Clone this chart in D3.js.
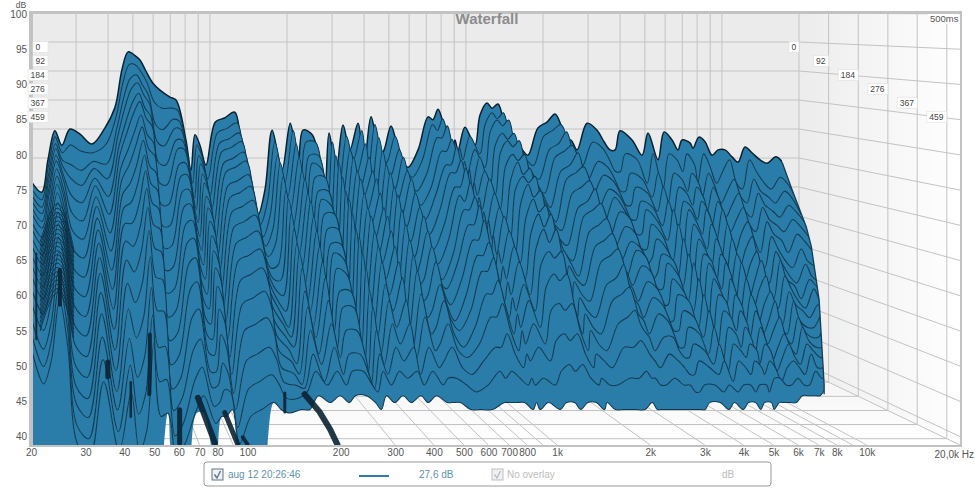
<!DOCTYPE html>
<html><head><meta charset="utf-8">
<script src="https://cdn.jsdelivr.net/npm/d3@7"></script>
<style>html,body{margin:0;padding:0;background:#fff}svg{display:block}text{font-family:"Liberation Sans",Arial,sans-serif}</style>
</head><body><svg id="c" width="975" height="488"></svg>
<script>
const sliceMs=[0,27,54,81,108,135,162,189,216,243,270,297,324,351,378,405,432,459];
const timeTicks=[0,92,184,276,367,459];
const dbTicks=[40,45,50,55,60,65,70,75,80,85,90,95,100];
const freqLabels=[[20,"20"],[30,"30"],[40,"40"],[50,"50"],[60,"60"],[70,"70"],[80,"80"],[100,"100"],[200,"200"],[300,"300"],[400,"400"],[500,"500"],[600,"600"],[700,"700"],[800,"800"],[1000,"1k"],[2000,"2k"],[3000,"3k"],[4000,"4k"],[5000,"5k"],[6000,"6k"],[7000,"7k"],[8000,"8k"],[10000,"10k"]];
const gridFreqs=[30,40,50,60,70,80,90,100,200,300,400,500,600,700,800,900,1000,2000,3000,4000,5000,6000,7000,8000,9000,10000,20000];
const freqs=[20,22,23.3,24.8,26.4,28.4,31.1,34.6,38.9,42.6,45.3,47.9,50.5,53.3,56.2,59.9,63.8,69.8,73.7,80.6,84.3,87.4,91.4,96.5,105,114,125,132,140,154,164,175,191,206,221,231,251,269,281,292,311,331,352,379,400,426,462,479,510,552,594,650,711,743,778,828,883,906,931,991,1084,1135,1208,1264,1335,1422,1514,1542,1642,1747,1911,2074,2229,2350,2438,2572,2717,2972,3252,3463,3656,3824,4000,4454,4875,5143,5629,5942,6385,6735,6985,7505,7709,8128,8590,9143,9661,10280,10950,11560,12300,13100,14090,15000,16260,17320,18970];
const levels=[
[71,70.2,69.5,68.9,68.2,67.6,66.6,65.9,64.9,64,62.9,61.8,60.6,59,57.3,55.4,53.7,52],
[69.1,68.2,67.3,66.6,65.7,65,63.9,63,61.9,60.8,59.6,58.2,56.8,55,53,50.7,48.7,46.7],
[74.7,73.7,72.7,72,71,70.3,69,68,66.8,65.6,64.2,62.7,61.1,59.1,56.9,54.4,52.2,50],
[79.7,78.9,78,77.4,76.6,75.9,74.9,74,73,72,70.8,69.6,68.2,66.5,64.7,62.6,60.7,58.8],
[77.2,76.2,75.2,74.4,73.4,72.7,71.4,70.4,69.1,67.9,66.5,65,63.3,61.3,59.1,56.5,54.3,52],
[80,77.5,74.5,72.4,69.9,67.4,64.9,62.4,59.8,57.3,54.8,52.3,49.8,47.2,44.7,42.6,40.1,38],
[79.1,76.5,73.5,71.3,68.8,66.2,63.6,61,58.4,55.8,53.2,50.7,48.1,45.5,42.9,40.7,38.2,36],
[77.4,76.2,75,74.1,72.8,71.9,70.4,69.2,67.7,66.2,64.5,62.7,60.7,58.2,55.5,52.5,49.7,47],
[80.2,77.6,74.6,72.4,69.8,67.2,64.6,62.1,59.5,56.9,54.3,51.7,49.1,46.5,43.9,41.8,39.2,37],
[83.8,82.3,80.7,79.6,78,76.9,75,73.4,71.5,69.6,67.5,65.2,62.7,59.6,56.2,52.3,48.9,45.4],
[90.2,88.1,85.9,84.3,82.2,80.6,78,75.8,73.2,70.5,67.6,64.4,60.9,56.7,51.9,46.6,41.8,37],
[93.3,91.2,89,87.4,85.3,83.7,81,78.9,76.2,73.6,70.6,67.4,64,59.7,54.9,49.6,44.8,40],
[92.8,91.2,89.6,88.4,86.8,85.6,83.6,81.9,80,77.9,75.7,73.3,70.7,67.5,63.9,59.8,56.2,52.6],
[91.9,89.9,87.9,86.4,84.4,82.9,80.4,78.4,75.9,73.4,70.7,67.7,64.5,60.5,56,51,46.5,42],
[90,88.1,86.2,84.8,82.9,81.5,79.1,77.2,74.8,72.4,69.8,67,63.9,60.1,55.8,51.1,46.8,42.5],
[87.9,84.8,81.2,78.6,75.4,72.3,69.2,66.1,63,59.9,56.8,53.6,50.5,47.4,44.3,41.7,38.6,36],
[86.7,83.8,80.4,77.9,75,72.1,69.2,66.2,63.3,60.4,57.5,54.6,51.6,48.7,45.8,43.4,40.4,38],
[85.5,83.8,82.1,80.8,79.1,77.9,75.7,74,71.9,69.8,67.4,64.9,62.1,58.7,54.9,50.7,46.8,43],
[85,83.4,81.8,80.6,79,77.8,75.8,74.2,72.2,70.2,68,65.6,63,59.8,56.2,52.2,48.6,45],
[78.1,75.9,73.3,71.4,69.2,67,64.7,62.5,60.3,58.1,55.8,53.6,51.4,49.2,46.9,45.1,42.9,41],
[72.9,71,68.9,67.3,65.5,63.6,61.8,59.9,58.1,56.2,54.4,52.5,50.7,48.8,46.9,45.4,43.5,42],
[79,77.5,76,74.9,73.5,72.3,70.5,69,67.2,65.3,63.3,61.1,58.7,55.7,52.4,48.7,45.3,42],
[77.2,75.7,74.2,73.1,71.6,70.5,68.6,67.2,65.3,63.4,61.4,59.2,56.7,53.8,50.4,47,45,43],
[73.8,71.7,69.1,67.4,65.2,63.1,60.9,58.8,56.6,54.5,52.3,50.2,48,45.9,43.7,41.9,39.8,38],
[81.2,79.6,78.1,76.9,75.3,74.1,72.2,70.6,68.7,66.7,64.5,62.2,59.6,56.5,53,49.1,45.5,42],
[81.9,80.3,78.8,77.6,76.1,74.9,73,71.4,69.5,67.5,65.4,63,60.5,57.4,53.9,50,46.5,43],
[82.9,81.3,79.8,78.6,77.1,75.9,74,72.4,70.5,68.5,66.4,64,61.5,58.4,54.9,51,47.5,44],
[78.1,76.7,75.3,74.2,72.8,71.8,70,68.6,66.9,65.1,63.2,61.1,58.8,56,52.8,49.3,46.2,43],
[73.8,71.9,69.7,68.2,66.3,64.4,62.5,60.7,58.8,56.9,55,53.1,51.3,49.4,47.5,45.9,44.1,42.5],
[65.2,64,62.3,61.2,59.9,58.5,57.2,55.9,54.5,53.2,51.9,50.5,49.2,47.9,46.6,45.4,44.1,43],
[69.5,68,66,64,62,59,57,55,53,51,50,49,47,46,45,45,45,43],
[79.8,78,76,75,73,71,70,68,66,64,63,61,58,56,53,50,48,45],
[72.9,71,69,67,65,63,61,59,57,55,54,52,51,49,48,46,46,44],
[81,80,78,76,74,73,71,70,68,66,64,62,60,57,54,51,48,45],
[73.8,72,70,68,66,64,62,60,58,57,55,53,52,50,49,47,46,44],
[79.8,78,76,75,73,71,70,68,66,64,63,61,58,56,53,50,48,45],
[79,78,76,74,73,71,69,68,66,64,62,60,58,56,53,50,48,45],
[73.8,72,70,68,66,64,62,60,58,57,55,53,52,50,49,47,46,44],
[69.5,68,66,64,62,59,57,55,53,51,50,49,47,46,45,45,45,43],
[79.3,78,76,75,73,71,70,68,66,65,63,61,58,56,53,50,48,45],
[72.9,71,69,67,65,63,61,59,57,56,54,52,51,49,48,47,46,44],
[80.7,79,77,76,74,73,71,69,68,66,64,62,59,57,54,51,48,45],
[76.4,75,73,71,70,68,66,64,62,61,59,57,55,53,51,49,47,44],
[81,80,78,76,74,73,71,69,68,66,64,62,60,57,54,51,48,45],
[73.8,72,70,68,66,64,62,60,58,57,55,53,52,50,49,47,46,44],
[82.1,81,79,77,75,74,72,71,69,67,65,63,61,58,55,51,48,45],
[75.5,74,72,70,68,66,65,63,61,59,58,56,54,52,50,48,46,44],
[76.4,75,73,71,70,68,66,64,62,61,59,57,55,53,51,49,47,44],
[80.5,79,77,76,74,73,71,69,68,66,64,62,59,57,54,51,47,44],
[75.5,74,72,70,68,66,65,63,61,59,58,56,54,52,50,48,46,43],
[73.4,72,70,68,66,64,62,60,58,57,55,53,52,50,49,47,45,43],
[76.4,75,73,71,70,68,66,64,62,61,59,57,55,53,51,49,46,43],
[82.1,81,79,77,75,74,72,71,69,67,65,63,61,58,55,51,48,44],
[81.6,80,79,77,75,74,72,70,69,67,65,63,61,58,55,51,47,44],
[83.4,82,81,79,78,76,75,73,71,70,68,65,63,60,57,53,48,44],
[79.8,78,76,75,73,71,70,68,66,64,63,61,58,56,53,50,47,44],
[76,75,73,71,69,67,65,63,61,60,58,56,54,52,50,48,46,43],
[78.1,77,75,74,72,70,68,67,65,63,61,59,57,55,53,50,47,44],
[76.4,75,73,71,70,68,66,64,62,61,59,57,55,53,51,49,46,43],
[80.3,79,77,76,74,73,71,69,68,66,64,62,59,57,54,51,47,44],
[77.2,76,74,71,70,68,66,64,62,61,59,57,55,53,51,49,46,43],
[82.4,81,80,78,77,75,73,72,70,68,66,64,62,59,56,52,48,44],
[84.5,83,82,80,79,77,76,74,73,71,69,67,64,61,57,53,49,44],
[83.6,82,81,79,78,76,74,73,71,69,67,65,63,60,56,52,48,43],
[84.3,83,82,80,79,77,75,74,72,70,69,67,64,61,57,53,49,44],
[79.8,78,76,75,73,71,70,68,66,64,63,61,58,56,53,50,47,44],
[75.9,75,72,70,68,66,65,63,61,59,58,56,54,52,50,48,46,43],
[78.1,77,75,74,72,70,68,67,65,63,61,59,57,55,53,50,47,44],
[76.7,75,73,71,70,68,66,64,62,61,59,57,55,53,51,49,46,43],
[75.5,74,72,70,68,66,65,63,61,59,58,56,54,52,50,48,46,43],
[80.2,79,77,76,74,73,71,69,68,66,64,62,59,57,54,51,47,43],
[81.2,80,78,77,75,74,72,70,69,67,65,63,60,58,55,51,47,43],
[82.6,81,80,78,77,75,73,72,70,68,66,64,62,59,56,52,48,44],
[80.7,79,77,76,74,73,71,69,68,66,64,62,59,57,54,51,47,43],
[78.1,77,75,74,72,70,68,67,65,63,61,59,57,55,53,50,47,43],
[78.1,76,74,73,71,69,67,66,64,62,60,58,56,54,52,49,46,43],
[76.4,74,72,70,68,66,64,63,61,59,58,56,54,52,50,48,46,43],
[81,78,75,73,71,70,68,66,64,63,61,59,57,55,52,50,47,43],
[79.8,77,74,72,70,68,67,65,63,62,60,58,56,54,52,49,46,43],
[77.8,75,72,70,68,66,64,62,61,59,57,56,54,52,50,48,46,43],
[76.4,73,70,68,66,64,62,60,58,57,55,53,52,50,49,47,45,43],
[76.4,73,70,68,66,64,62,61,59,57,55,53,52,50,49,47,45,43],
[79.7,76,73,71,69,68,66,64,62,61,59,57,55,53,51,49,46,44],
[78.1,75,72,70,68,66,64,62,61,59,57,56,54,52,50,48,46,44],
[75.5,71,69,67,65,63,60,58,57,55,54,52,51,49,48,47,45,43],
[79.3,76,73,71,69,68,66,64,62,61,59,57,55,53,51,49,46,44],
[74.7,70,68,66,64,61,59,57,55,54,52,51,50,48,47,46,45,43],
[79.5,76,73,71,69,68,66,64,62,61,59,57,55,53,51,49,46,44],
[78.1,75,72,70,68,66,64,62,61,59,57,56,54,52,50,48,46,44],
[76.4,73,70,68,66,64,62,60,58,57,55,53,52,50,49,47,45,43],
[78.1,76,73,71,69,68,66,64,62,61,59,57,55,53,51,49,46,44],
[77.6,74,71,69,67,65,63,61,60,58,56,55,53,51,50,48,46,44],
[76.7,71,69,67,65,63,60,58,57,55,54,52,51,49,48,47,45,43],
[78.6,76,73,71,69,68,66,64,62,61,59,57,55,53,51,49,47,44],
[77.8,74,71,69,67,65,63,61,60,58,56,55,53,51,50,48,47,44],
[75.5,71,68,66,64,61,59,57,55,54,52,51,50,48,47,46,46,44],
[76.4,73,70,68,66,64,62,60,58,57,55,53,52,50,49,48,46,44],
[76.4,75,72,70,68,66,64,62,61,59,57,56,54,52,51,49,47,45],
[75.2,71,69,67,65,63,60,58,57,55,54,52,51,50,49,48,46,45],
[74.3,70,68,66,64,61,59,57,55,54,52,51,50,49,48,47,46,45],
[76.9,75,72,70,68,66,64,62,61,59,57,56,54,53,51,50,48,45],
[75.9,73,70,68,66,64,62,60,58,57,55,53,52,51,50,48,47,46],
[74.7,71,69,67,65,63,60,58,57,55,54,52,51,50,49,48,47,46],
[74.1,70,68,66,64,61,59,57,55,54,53,52,51,50,49,48,47,46],
[75.2,72,70,68,66,64,62,60,58,57,55,54,53,51,50,49,48,47],
[74.1,71,69,67,65,63,60,58,57,55,54,53,52,51,50,49,48,47],
[69.5,68,66,65,63,61,59,57,56,54,53,52,51,50,49,48,47,46]
];
const skirtDb=[30,30,30,30,30,30,30,30,30,30,30,30,30,34,42.5,30,30,42.5,42.5,33,42,42,43,33,30,32,44];
const edgeFreq=[5332,5742,6375,6620,7017,7283,7283];
const edgeDb=[78.9,75,69.8,67,59.4,47.4,46];
const domeFreq=[21.4,23,24.4,26,27.5];
const domeDrop=[6,1.6,0,2,7];
const domeLevels=[73.6,73,72.4,71.8,71.2,70.6,70,69.4,68.8,68.2,67.6,67,66.4,65.8,65.2,64.6,64,63.4,62.8,62.2,61.6,61];
const streaks=[
 {f:[153,171,185,195],db:[46,43.5,41,38.9],w:6},
 {f:[48.4,48.4,48.2],db:[54.5,50,46],w:4},
 {f:[42,42],db:[47.7,42.8],w:2.5},
 {f:[60.4,60.4],db:[43.8,39.1],w:5},
 {f:[69.2,78.5],db:[45.5,39.1],w:6},
 {f:[84.5,93],db:[43.4,38.9],w:5},
 {f:[96.6,100],db:[39.9,38.9],w:4},
 {f:[132,132],db:[46.2,43.5],w:3},
 {f:[24.8,24.8],db:[63.7,58.7],w:4},
 {f:[20.8,20.8],db:[66,53.8],w:2},
 {f:[35.4,35.4],db:[50.6,48.5],w:5}
];
const legendTitle="aug 12 20:26:46", legendValue="27,6 dB", overlayText="No overlay", unitText="dB";

const FILL="#2a7ca9", LINE="#0f3a52", GRID="#c3c3c3", FRAME="#c2c2c2";
const tOf=ms=>ms/500;
const xAt=t=>d3.scaleLog().domain([20,20000]).range([31,799+161*t]);
const yAt=t=>d3.scaleLinear().domain([100,38.8]).range([13+t,368+77*t]);
// slices narrow towards the high end as time advances
const rowX=t=>d3.scaleLog().domain([20,2000,20000]).range([31,31+(768+161*t)*2/3,799+75*t]);
const xF=xAt(1), yF=yAt(1), xB=xAt(0), yB=yAt(0);
const svg=d3.select("#c");
const defs=svg.append("defs");
const g1=defs.append("linearGradient").attr("id","wall").attr("x1",0).attr("x2",1).attr("y1",0).attr("y2",0);
g1.append("stop").attr("offset",0).attr("stop-color","#ececec");g1.append("stop").attr("offset",1).attr("stop-color","#ffffff");
const g2=defs.append("linearGradient").attr("id","floor").attr("x1",0).attr("x2",0).attr("y1",0).attr("y2",1);
g2.append("stop").attr("offset",0).attr("stop-color","#f3f3f3");g2.append("stop").attr("offset",1).attr("stop-color","#ffffff");

const poly=p=>"M"+p.map(a=>a.join(",")).join("L")+"Z";
const R=[xF.range()[1],yF.range()[1]], B=[xB.range()[1],yB.range()[1]];
svg.append("rect").attr("x",31).attr("y",13).attr("width",B[0]-31).attr("height",B[1]-13).attr("fill","#ebebeb");
svg.append("path").attr("d",poly([[B[0],13],[R[0],13],R,B])).attr("fill","url(#wall)");
svg.append("path").attr("d",poly([[31,B[1]],B,R,[31,R[1]]])).attr("fill","url(#floor)");
const gl=svg.append("g").attr("stroke",GRID).attr("stroke-width",1).attr("fill","none");
const seg=(a,b,c,d)=>gl.append("line").attr("x1",a).attr("y1",b).attr("x2",c).attr("y2",d);
gridFreqs.forEach(f=>{seg(xB(f),13,xB(f),yB(38.8));seg(xB(f),yB(38.8),xF(f),yF(38.8));});
dbTicks.forEach(d=>{seg(31,yB(d),xB(20000),yB(d));seg(xB(20000),yB(d),xF(20000),yF(d));});
timeTicks.slice(1).forEach(ms=>{const t=tOf(ms),X=xAt(t),Y=yAt(t);
 seg(X(20000),Y(100),X(20000),Y(38.8));seg(31,Y(38.8),X(20000),Y(38.8));});

const rows=sliceMs.map((ms,k)=>{const t=tOf(ms),X=rowX(t),Y=yAt(t);
 return freqs.map((f,c)=>({x:X(f),y:Y(levels[c][k])}));});
const tl=tOf(sliceMs[sliceMs.length-1]),XL=rowX(tl),YL=yAt(tl);
const skirt=freqs.map((f,c)=>({x:XL(f),y:YL(c<skirtDb.length?skirtDb[c]:levels[c][sliceMs.length-1])}));
const edge=edgeFreq.map((f,i)=>[xF(f),yF(edgeDb[i])]);
defs.append("clipPath").attr("id","surf").append("path").attr("d",poly([[31,0],[edge[0][0],0],...edge,[edge[edge.length-1][0],445],[31,445]]));
const sf=svg.append("g").attr("clip-path","url(#surf)");
const curve=d3.curveCatmullRom.alpha(0.5);
const band=d3.area().curve(curve).x0(d=>d.b.x).y0(d=>d.b.y).x1(d=>d.a.x).y1(d=>d.a.y);
const ln=d3.line().curve(curve).x(d=>d.x).y(d=>d.y);
rows.forEach((row,k)=>{
 const next=k<rows.length-1?rows[k+1]:skirt;
 sf.append("path").attr("d",band(row.map((a,c)=>({a,b:next[c]})))).attr("fill",FILL);
 sf.append("path").attr("d",ln(row)).attr("fill","none").attr("stroke",k==0?"#0a2230":LINE).attr("stroke-width",k==0?1.5:1.05);
});
domeLevels.forEach(l=>{
 sf.append("path").attr("d",d3.line().curve(d3.curveBasis)(domeFreq.map((f,i)=>[xF(f),yF(l-domeDrop[i])]))).attr("fill","none").attr("stroke","#0c2f43").attr("stroke-width",.9);
});
streaks.forEach(s=>{
 sf.append("path").attr("d",d3.line()(s.f.map((f,i)=>[xF(f),yF(s.db[i])]))).attr("fill","none").attr("stroke","#0b2433").attr("stroke-width",s.w).attr("stroke-linecap","round").attr("stroke-opacity",.9);
});
svg.append("path").attr("d",d3.line()(edge)).attr("fill","none").attr("stroke","#143c54").attr("stroke-width",1.3);

svg.append("rect").attr("x",29).attr("y",11).attr("width",4).attr("height",436).attr("fill",FRAME);
svg.append("rect").attr("x",29).attr("y",11).attr("width",933).attr("height",3).attr("fill",FRAME);
svg.append("rect").attr("x",960).attr("y",11).attr("width",2).attr("height",436).attr("fill",FRAME);
svg.append("rect").attr("x",29).attr("y",445).attr("width",933).attr("height",2).attr("fill",FRAME);

const yAxis=svg.append("g").attr("transform","translate(27,0)").call(d3.axisLeft(yF).tickValues(dbTicks).tickSize(0).tickPadding(0));
yAxis.select(".domain").remove();
yAxis.selectAll("text").attr("fill","#555").style("font-size","10px");
const xAxis=svg.append("g").attr("transform","translate(0,449)").call(d3.axisBottom(xF).tickValues(freqLabels.map(d=>d[0])).tickFormat(d=>new Map(freqLabels).get(d)).tickSize(0).tickPadding(0));
xAxis.select(".domain").remove();
xAxis.selectAll("text").attr("fill","#555").style("font-size","10px");
const T=(x,y,s,o={})=>svg.append("text").attr("x",x).attr("y",y).text(s).attr("font-size",o.size||10).attr("fill",o.fill||"#555").attr("text-anchor",o.anchor||"start").attr("font-weight",o.weight||"normal");
T(974,458,"20,0k Hz",{anchor:"end"});
T(21,8,"dB",{anchor:"middle",size:8.5});
T(487,24,"Waterfall",{anchor:"middle",size:15,weight:"bold",fill:"#8c8c8c"});

const labelBox=(xr,y,s,w)=>{svg.append("rect").attr("x",xr-w).attr("y",y-5.5).attr("width",w).attr("height",11).attr("fill","#fff").attr("stroke","#e2e2e2").attr("stroke-width",.7);
 T(xr-w+2.5,y+3,s,{size:8.5,fill:"#444"});};
timeTicks.forEach(ms=>{const t=tOf(ms);
 const y=47+76*t, w=String(ms).length*5+5;
 labelBox(xAt(t)(20000),y,ms,w);
 labelBox(48,y,ms,w<14?15:w);
});
svg.append("rect").attr("x",928).attr("y",14).attr("width",31).attr("height",10).attr("fill","#fff");
T(930,22,"500ms",{size:9.5,fill:"#555"});

svg.append("rect").attr("x",204).attr("y",462).attr("width",567).attr("height",24).attr("rx",3).attr("fill","#fff").attr("stroke","#9a9a9a");
const box=(x,col)=>{svg.append("rect").attr("x",x).attr("y",469).attr("width",11).attr("height",11).attr("fill","#eef1f5").attr("stroke",col);
 svg.append("path").attr("d",`M${x+2.5},474.5l2.5,3.5l3.5,-7`).attr("fill","none").attr("stroke",col).attr("stroke-width",1.4);};
box(212,"#5d7488");box(492,"#bdbdbd");
T(228,478,legendTitle,{fill:"#5f93ad",size:10});
svg.append("line").attr("x1",359).attr("x2",389).attr("y1",476).attr("y2",476).attr("stroke","#2f7da6").attr("stroke-width",2);
T(419,478,legendValue,{fill:"#5f93ad",size:10});
T(507,478,overlayText,{fill:"#bcbcbc",size:10});
T(722,478,unitText,{fill:"#bcbcbc",size:10});
</script></body></html>
